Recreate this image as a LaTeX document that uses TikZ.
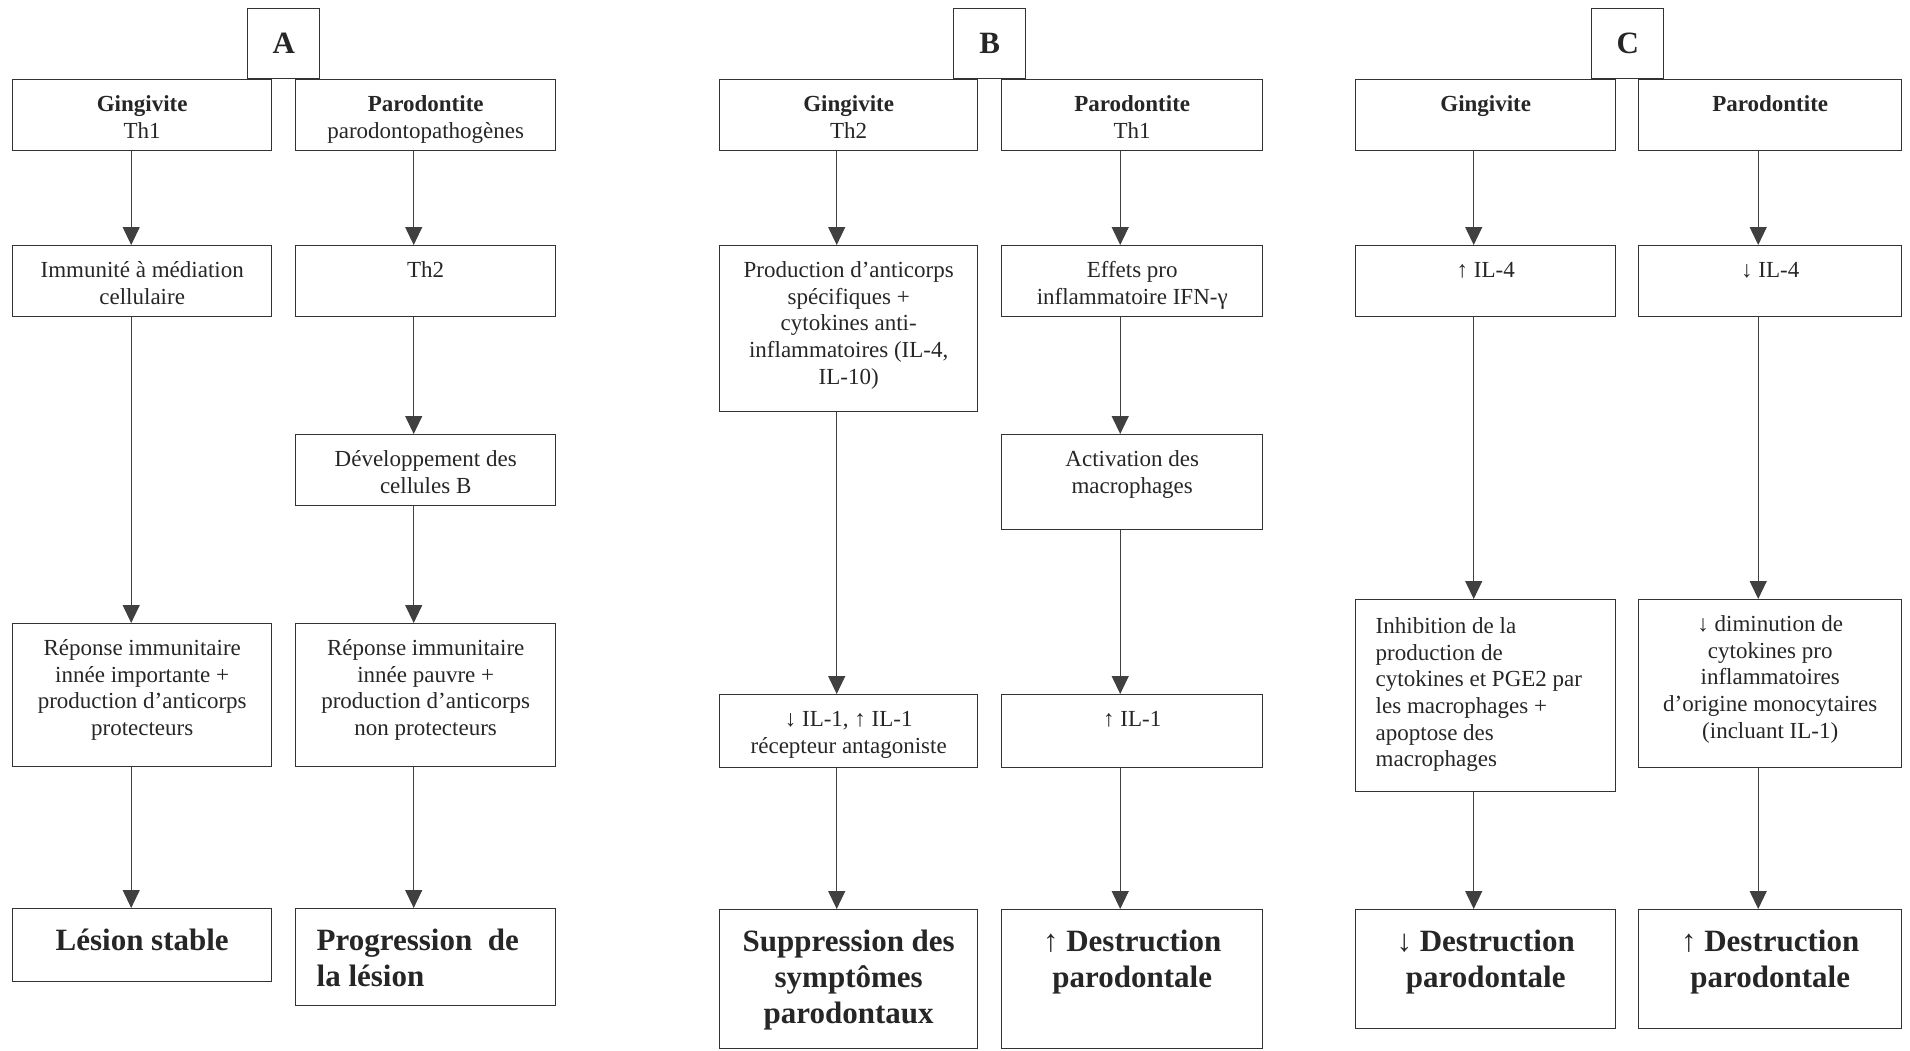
\documentclass[tikz,border=0pt]{standalone}
\usepackage{fontspec}
\setmainfont{Liberation Serif}
\usetikzlibrary{arrows.meta}

\newcommand{\flowtext}[3]{\parbox[c][#2pt][t]{#1pt}{\centering\rule{0pt}{16pt}#3\par}}
\newcommand{\flowleft}[3]{\parbox[c][#2pt][t]{#1pt}{\raggedright\leftskip=10pt\rule{0pt}{17pt}#3\par}}
\newcommand{\flowbig}[3]{\parbox[c][#2pt][t]{#1pt}{\centering\fontsize{15.5}{18}\selectfont\bfseries\rule{0pt}{21pt}#3\par}}

\begin{document}
\begin{tikzpicture}[x=0.5pt, y=-0.5pt,
  box/.style={draw=black!80, line width=0.7pt, inner sep=0pt, anchor=north west, text=black!85, font=\fontsize{11.5}{13.3}\selectfont},
  tag/.style={box, font=\fontsize{15.5}{18}\selectfont\bfseries},
  link/.style={draw=black!75, line width=0.6pt, -{Triangle[length=9pt,width=8.5pt]}}]
\useasboundingbox (0,0) rectangle (1910,1050);
% Define the nodes
% panel A
\node[box] (gA1) at (12,79) {\flowtext{129.5}{35.5}{\textbf{Gingivite}\\Th1}};
\node[box] (pA1) at (295,79) {\flowtext{130}{35.5}{\textbf{Parodontite}\\parodontopathogènes}};
\node[tag] (labA) at (247,8) {\parbox[c][35pt][c]{36pt}{\centering A}};
\node[box] (gA2) at (12,245) {\flowtext{129.5}{35.5}{Immunité à médiation\\cellulaire}};
\node[box] (pA2) at (295,245) {\flowtext{130}{35.5}{Th2}};
\node[box] (pA3) at (295,434) {\flowtext{130}{35.5}{Développement des\\cellules B}};
\node[box] (gA4) at (12,623) {\flowtext{129.5}{71.5}{Réponse immunitaire\\innée importante +\\production d’anticorps\\protecteurs}};
\node[box] (pA4) at (295,623) {\flowtext{130}{71.5}{Réponse immunitaire\\innée pauvre +\\production d’anticorps\\non protecteurs}};
\node[box] (gA5) at (12,908) {\flowbig{129.5}{36.5}{Lésion stable}};
\node[box] (pA5) at (295,908) {\parbox[c][48.5pt][t]{130pt}{\raggedright\leftskip=10.5pt\fontsize{15.5}{18}\selectfont\bfseries\rule{0pt}{21pt}Progression\hspace{0.5em}de\\la lésion\par}};
% panel B
\node[box] (gB1) at (719,79) {\flowtext{129}{35.5}{\textbf{Gingivite}\\Th2}};
\node[box] (pB1) at (1001,79) {\flowtext{130.5}{35.5}{\textbf{Parodontite}\\Th1}};
\node[tag] (labB) at (953,8) {\parbox[c][35pt][c]{36pt}{\centering B}};
\node[box] (gB2) at (719,245) {\flowtext{129}{83}{Production d’anticorps\\spécifiques +\\cytokines anti-\\inflammatoires (IL-4,\\IL-10)}};
\node[box] (pB2) at (1001,245) {\flowtext{130.5}{35.5}{Effets pro\\inflammatoire IFN-γ}};
\node[box] (pB3) at (1001,434) {\flowtext{130.5}{47.5}{Activation des\\macrophages}};
\node[box] (gB4) at (719,694) {\flowtext{129}{36.5}{↓ IL-1, ↑ IL-1\\récepteur antagoniste}};
\node[box] (pB4) at (1001,694) {\flowtext{130.5}{36.5}{↑ IL-1}};
\node[box] (gB5) at (719,909) {\flowbig{129}{69.5}{Suppression des\\symptômes\\parodontaux}};
\node[box] (pB5) at (1001,909) {\flowbig{130.5}{69.5}{↑ Destruction\\parodontale}};
% panel C
\node[box] (gC1) at (1355,79) {\flowtext{130}{35.5}{\textbf{Gingivite}}};
\node[box] (pC1) at (1638,79) {\flowtext{131.5}{35.5}{\textbf{Parodontite}}};
\node[tag] (labC) at (1591,8) {\parbox[c][35pt][c]{36pt}{\centering C}};
\node[box] (gC2) at (1355,245) {\flowtext{130}{35.5}{↑ IL-4}};
\node[box] (pC2) at (1638,245) {\flowtext{131.5}{35.5}{↓ IL-4}};
\node[box] (gC4) at (1355,599) {\flowleft{130}{96}{Inhibition de la\\production de\\cytokines et PGE2 par\\les macrophages +\\apoptose des\\macrophages}};
\node[box] (pC4) at (1638,599) {\flowtext{131.5}{84}{↓ diminution de\\cytokines pro\\inflammatoires\\d’origine monocytaires\\(incluant IL-1)}};
\node[box] (gC5) at (1355,909) {\flowbig{130}{59.5}{↓ Destruction\\parodontale}};
\node[box] (pC5) at (1638,909) {\flowbig{131.5}{59.5}{↑ Destruction\\parodontale}};
% Draw the paths
\draw[link] ([xshift=-5.5pt]gA1.south) -- ([xshift=-5.5pt]gA2.north);
\draw[link] ([xshift=-5.5pt]gA2.south) -- ([xshift=-5.5pt]gA4.north);
\draw[link] ([xshift=-5.5pt]gA4.south) -- ([xshift=-5.5pt]gA5.north);
\draw[link] ([xshift=-6pt]pA1.south) -- ([xshift=-6pt]pA2.north);
\draw[link] ([xshift=-6pt]pA2.south) -- ([xshift=-6pt]pA3.north);
\draw[link] ([xshift=-6pt]pA3.south) -- ([xshift=-6pt]pA4.north);
\draw[link] ([xshift=-6pt]pA4.south) -- ([xshift=-6pt]pA5.north);
\draw[link] ([xshift=-6pt]gB1.south) -- ([xshift=-6pt]gB2.north);
\draw[link] ([xshift=-6pt]gB2.south) -- ([xshift=-6pt]gB4.north);
\draw[link] ([xshift=-6pt]gB4.south) -- ([xshift=-6pt]gB5.north);
\draw[link] ([xshift=-6pt]pB1.south) -- ([xshift=-6pt]pB2.north);
\draw[link] ([xshift=-6pt]pB2.south) -- ([xshift=-6pt]pB3.north);
\draw[link] ([xshift=-6pt]pB3.south) -- ([xshift=-6pt]pB4.north);
\draw[link] ([xshift=-6pt]pB4.south) -- ([xshift=-6pt]pB5.north);
\draw[link] ([xshift=-6pt]gC1.south) -- ([xshift=-6pt]gC2.north);
\draw[link] ([xshift=-6pt]gC2.south) -- ([xshift=-6pt]gC4.north);
\draw[link] ([xshift=-6pt]gC4.south) -- ([xshift=-6pt]gC5.north);
\draw[link] ([xshift=-6pt]pC1.south) -- ([xshift=-6pt]pC2.north);
\draw[link] ([xshift=-6pt]pC2.south) -- ([xshift=-6pt]pC4.north);
\draw[link] ([xshift=-6pt]pC4.south) -- ([xshift=-6pt]pC5.north);
\end{tikzpicture}
\end{document}
